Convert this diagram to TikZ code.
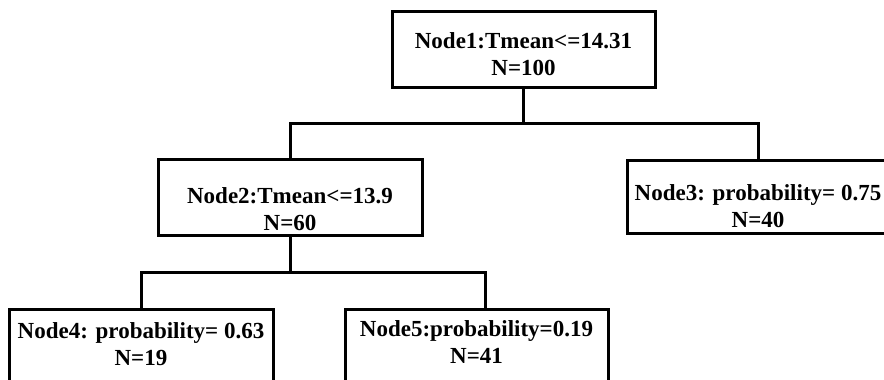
\documentclass[tikz,border=0pt]{standalone}
\usepackage{fontspec}
\setmainfont{Liberation Serif}
\usetikzlibrary{positioning}
\tikzstyle{box}=[draw, line width=3pt, align=center, inner sep=0, outer sep=0, text depth=0pt, font=\fontsize{23}{27}\selectfont\bfseries]
\tikzstyle{wire}=[line width=3pt]

\begin{document}
\begin{tikzpicture}[x=1pt, y=-1pt]
    \useasboundingbox (0, 0) rectangle (884, 380);
    \clip (0, 0) rectangle (884, 380);
    \node[box, minimum width=263pt, minimum height=76pt, text height=52pt] (n1) at (523.5, 49) {Node1:Tmean<=14.31\\N=100};
    \node[box, minimum width=264pt, minimum height=76pt, text height=66pt] (n2) at (290, 197) {Node2:Tmean<=13.9\\N=60};
    \node[box, minimum width=262pt, minimum height=73pt, text height=61pt] (n3) at (758, 196.5) {Node3: probability= 0.75\\N=40};
    \node[box, minimum width=264pt, minimum height=76pt, text height=36pt] (n4) at (141, 347) {Node4: probability= 0.63\\N=19};
    \node[box, minimum width=263pt, minimum height=76pt, text height=32pt] (n5) at (476.5, 347) {Node5:probability=0.19\\N=41};
    \coordinate (j1) at (523.5, 123);
    \coordinate (j2) at (290, 272);
    \draw[wire] (n1.south) -- (j1);
    \draw[wire] (j1) -| (n2.north);
    \draw[wire] (j1) -| (n3.north);
    \draw[wire] (n2.south) -- (j2);
    \draw[wire] (j2) -| (n4.north);
    \draw[wire] (j2) -| ([xshift=8.5pt]n5.north);
\end{tikzpicture}
\end{document}
